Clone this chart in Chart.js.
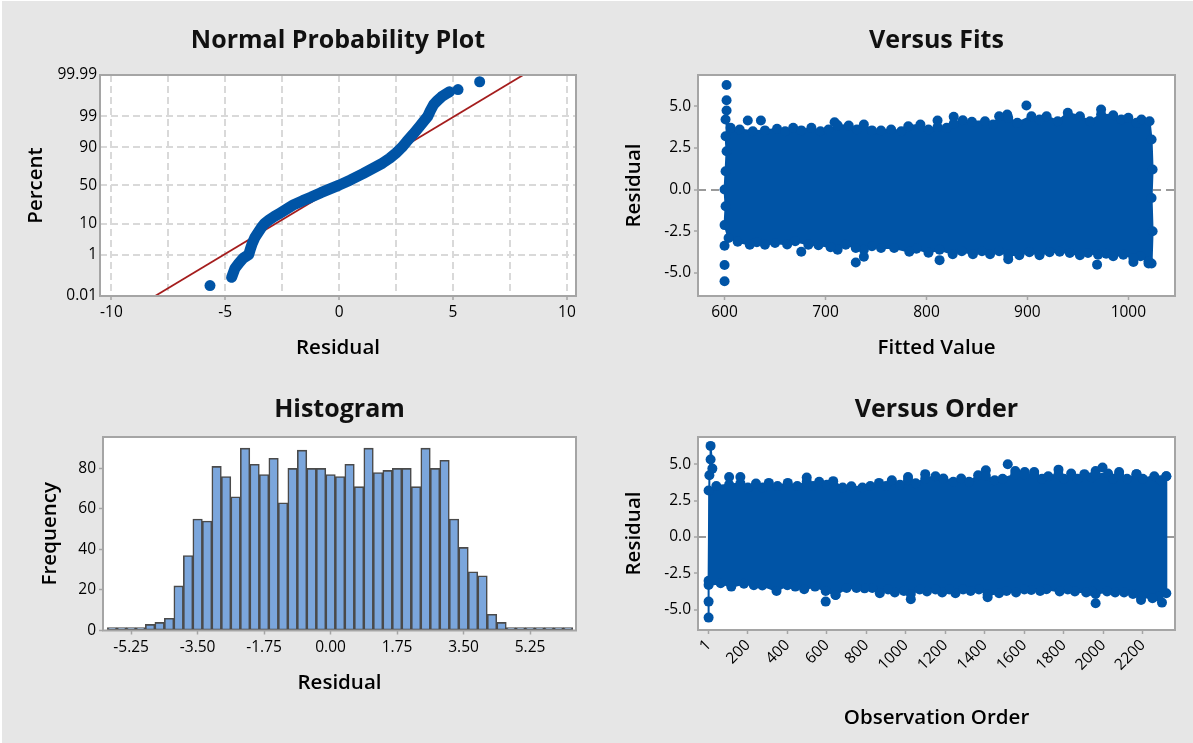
<!DOCTYPE html>
<html><head><meta charset="utf-8">
<script src="https://cdn.jsdelivr.net/npm/chart.js@4.4.1/dist/chart.umd.min.js"></script>
<style>
html,body{margin:0;padding:0;background:#e6e6e6;}
#wrap{position:relative;width:1193px;height:743px;background:#e6e6e6;overflow:hidden;}
canvas{position:absolute;}
#edge{position:absolute;left:0;top:0;width:1193px;height:743px;box-sizing:border-box;border-left:2px solid #fff;border-top:1px solid #fff;pointer-events:none;}
</style></head><body>
<div id="wrap">
<canvas id="c1" width="596" height="371" style="left:0;top:0"></canvas>
<canvas id="c2" width="597" height="371" style="left:596px;top:0"></canvas>
<canvas id="c3" width="596" height="372" style="left:0;top:371px"></canvas>
<canvas id="c4" width="597" height="372" style="left:596px;top:371px"></canvas>
<div id="edge"></div>
</div>
<script>
// ---------- DATA ----------
// Normal probability plot (residual, percent)
const nppResidual = [-4.72,-4.58,-4.40,-4.21,-3.97,-3.90,-3.82,-3.70,-3.55,-3.42,-3.28,-3.10,-2.85,-2.60,-2.30,-2.02,-1.60,-1.25,-0.80,-0.40,0.00,0.50,1.05,1.50,1.91,2.22,2.50,2.75,2.96,3.25,3.54,3.75,3.89,4.00,4.15,4.30,4.50,4.71,4.85];
const nppPercent  = [0.10,0.26,0.45,0.72,1.0,1.6,2.5,4.0,5.8,7.8,10,12,14.8,17.6,21.5,25.5,30.5,34.5,40.5,45.5,50.5,57.5,65.5,72,77.5,82,86.3,90,93,95.8,97.7,98.6,99.0,99.4,99.68,99.78,99.86,99.90,99.92];
const nppOutResidual = [-5.67, 5.22, 6.17];
const nppOutPercent  = [0.038, 99.938, 99.976];
const nppFitResidual = [-8.08, 8.08];
const nppFitPercent  = [0.01, 99.99];
const nppPercentTicks = [0.01, 1, 10, 50, 90, 99, 99.99];
const nppResidualGrid = [-10,-7.5,-5,-2.5,0,2.5,5,7.5,10];
const nppResidualLabels = [-10,-5,0,5,10];

// Versus fits: dense region outline (upper+right side, left side+lower), isolated points
const fitsTopX = [601,606,615,628,640,652,660,668,676,686,695,703,712,723,731,738,746,755,765,775,782,794,802,811,820,827,836,845,858,866,872,881,890,904,912,919,930,940,952,962,973,985,993,1000,1008,1013,1021,1023,1024,1023,1024];
const fitsTopY = [4.2,3.7,3.6,3.5,3.55,3.64,3.5,3.7,3.55,3.7,3.5,3.6,3.85,3.84,3.6,3.9,3.55,3.54,3.6,3.5,3.8,3.9,3.6,3.75,3.7,3.95,4.16,4.06,4.1,3.9,4.4,4.3,4.0,4.4,4.2,4.4,4.1,4.6,4.4,4.1,4.5,4.46,4.2,4.3,4.0,4.2,4.1,3.0,1.2,-0.5,-2.5];
const fitsBotX = [601,602,601,600,601,600,604,613,625,632,640,650,662,670,683,693,705,712,720,730,738,746,755,768,783,790,802,813,826,835,846,855,863,872,881,892,902,912,922,932,942,952,960,970,978,985,995,1005,1012,1020,1023];
const fitsBotY = [3.2,2.3,1.1,0.0,-1.0,-2.13,-2.9,-3.13,-3.3,-3.15,-3.3,-3.2,-3.29,-3.1,-3.3,-3.33,-3.45,-3.6,-3.3,-3.5,-3.6,-3.4,-3.5,-3.5,-3.73,-3.55,-3.79,-3.6,-3.87,-3.7,-3.87,-3.7,-3.87,-3.7,-3.9,-3.93,-3.75,-3.93,-3.75,-3.73,-3.8,-3.93,-3.8,-3.9,-3.85,-3.99,-3.9,-4.1,-4.0,-4.3,-4.43];
const fitsOutX = [602,602,602,623,636,709,811,827,880,899,973,600,600,600,676,730,738,813,881,969,1005,1020];
const fitsOutY = [6.27,5.36,4.74,4.14,4.14,4.04,4.14,4.36,4.5,5.04,4.8,-3.37,-4.52,-5.5,-3.73,-4.37,-4.03,-4.23,-4.17,-4.5,-4.34,-4.43];
const fitsResidTicks = [-5,-2.5,0,2.5,5];
const fitsValueTicks = [600,700,800,900,1000];

// Histogram
const histBins = [-5.75,-5.5,-5.25,-5.0,-4.75,-4.5,-4.25,-4.0,-3.75,-3.5,-3.25,-3.0,-2.75,-2.5,-2.25,-2.0,-1.75,-1.5,-1.25,-1.0,-0.75,-0.5,-0.25,0.0,0.25,0.5,0.75,1.0,1.25,1.5,1.75,2.0,2.25,2.5,2.75,3.0,3.25,3.5,3.75,4.0,4.25,4.5,4.75,5.0,5.25,5.5,5.75,6.0,6.25];
const histCounts = [0,0,0,0,3,4,6,22,37,55,54,81,76,66,90,82,77,85,63,80,89,80,80,77,76,82,71,90,78,79,80,80,71,90,80,84,55,41,29,27,8,4,0,0,0,0,0,0,0];
const histResidTicks = [-5.25,-3.5,-1.75,0,1.75,3.5,5.25];
const histFreqTicks = [0,20,40,60,80];

// Versus order
const orderTopX = [1,40,105,162,200,241,275,306,350,402,450,498,530,561,600,632,680,724,780,820,864,900,929,970,1011,1050,1098,1150,1190,1240,1280,1320,1366,1405,1450,1490,1554,1602,1650,1690,1721,1773,1800,1837,1870,1904,1940,1961,2024,2050,2080,2120,2168,2200,2258,2290,2319];
const orderTopY = [3.2,3.5,3.6,3.7,3.4,3.68,3.4,3.72,3.5,3.72,3.5,3.8,3.5,3.79,3.6,3.84,3.4,3.49,3.4,3.5,3.72,3.5,3.9,3.6,3.9,3.7,4.0,4.18,4.02,3.8,4.02,3.8,4.25,4.2,3.9,4.0,4.3,4.3,4.3,4.0,4.18,4.3,4.0,4.36,4.0,4.32,4.1,4.3,4.36,4.0,4.3,4.0,4.32,4.0,4.18,3.9,4.18];
const orderBotX = [1,62,116,180,230,273,345,400,440,485,540,594,644,700,750,791,830,868,910,944,990,1025,1070,1107,1150,1184,1220,1251,1290,1328,1370,1414,1472,1510,1558,1600,1635,1680,1712,1779,1820,1856,1913,1940,1961,2019,2060,2105,2150,2191,2249,2280,2319];
const orderBotY = [-3.29,-3.17,-3.40,-3.2,-3.3,-3.33,-3.70,-3.3,-3.4,-3.58,-3.4,-3.7,-3.97,-3.5,-3.5,-3.52,-3.5,-3.86,-3.6,-3.81,-3.7,-3.9,-3.6,-3.74,-3.6,-3.81,-3.6,-3.86,-3.6,-3.70,-3.6,-3.95,-3.86,-3.7,-3.81,-3.6,-3.63,-3.7,-3.58,-3.74,-3.6,-3.74,-3.81,-3.7,-3.9,-3.74,-3.8,-3.81,-3.9,-4.1,-4.20,-4.1,-3.86];
const orderStartX = [1,1,1,5,11,11,20];
const orderStartY = [-5.53,-4.43,-3.0,4.25,5.32,6.26,4.70];
const orderOutX = [105,162,498,1011,1098,1405,1516,1554,1602,1650,1773,1961,1996,2080,2168,2319,594,644,1025,1414,1961,2191,2297];
const orderOutY = [4.13,4.13,4.09,4.13,4.32,4.59,5.0,4.54,4.47,4.47,4.63,4.54,4.77,4.47,4.32,4.18,-4.43,-3.97,-4.27,-4.13,-4.54,-4.32,-4.50];
const orderTicks = [1,200,400,600,800,1000,1200,1400,1600,1800,2000,2200];

// ---------- HELPERS ----------
const BLUE = '#0054a6';
const FONT = "'Open Sans', 'Noto Sans', sans-serif";
const FRAME = '#a5a5a5';
Chart.defaults.font.family = FONT;
Chart.defaults.color = '#000';

function probit(p) {
  const a=[-3.969683028665376e+01,2.209460984245205e+02,-2.759285104469687e+02,1.383577518672690e+02,-3.066479806614716e+01,2.506628277459239e+00];
  const b=[-5.447609879822406e+01,1.615858368580409e+02,-1.556989798598866e+02,6.680131188771972e+01,-1.328068155288572e+01];
  const c=[-7.784894002430293e-03,-3.223964580411365e-01,-2.400758277161838e+00,-2.549671348440952e+00,4.374664141464968e+00,2.938163982698783e+00];
  const d=[7.784695709041462e-03,3.224671290700398e-01,2.445134137142996e+00,3.754408361280976e+00];
  const pl=0.02425, ph=1-pl; let q,r;
  if (p < pl) { q=Math.sqrt(-2*Math.log(p)); return (((((c[0]*q+c[1])*q+c[2])*q+c[3])*q+c[4])*q+c[5])/((((d[0]*q+d[1])*q+d[2])*q+d[3])*q+1); }
  if (p <= ph) { q=p-0.5; r=q*q; return (((((a[0]*r+a[1])*r+a[2])*r+a[3])*r+a[4])*r+a[5])*q/(((((b[0]*r+b[1])*r+b[2])*r+b[3])*r+b[4])*r+1); }
  q=Math.sqrt(-2*Math.log(1-p)); return -(((((c[0]*q+c[1])*q+c[2])*q+c[3])*q+c[4])*q+c[5])/((((d[0]*q+d[1])*q+d[2])*q+d[3])*q+1);
}

class ProbitScale extends Chart.Scale {
  determineDataLimits() { this.min = this.options.min; this.max = this.options.max; }
  buildTicks() { return nppPercentTicks.map(v => ({value: v})); }
  getLabelForValue(v) { return String(v); }
  configure() { super.configure(); this._zmin = probit(this.min/100); this._zmax = probit(this.max/100); }
  getPixelForValue(v) { return this.getPixelForDecimal((probit(v/100) - this._zmin)/(this._zmax - this._zmin)); }
  getPixelForTick(i) { return this.getPixelForValue(this.ticks[i].value); }
  getValueForPixel(px) { return 50; }
}
ProbitScale.id = 'probit';
ProbitScale.defaults = {};
Chart.register(ProbitScale);

const pts = (xs, ys) => xs.map((x, i) => ({x: x, y: ys[i]}));
const polygon = (tx, ty, bx, by) => pts(tx, ty).concat(pts(bx, by).reverse());

const panelPlugin = {
  id: 'panel',
  beforeDraw(chart, args, opts) {
    const {ctx, chartArea: a} = chart;
    ctx.save(); ctx.fillStyle = '#fff'; ctx.fillRect(a.left, a.top, a.width, a.height); ctx.restore();
  },
  afterDraw(chart, args, opts) {
    const {ctx, chartArea: a} = chart;
    ctx.save();
    ctx.strokeStyle = FRAME; ctx.lineWidth = 2;
    ctx.strokeRect(a.left, a.top, a.width, a.height);
    ctx.fillStyle = '#111'; ctx.font = 'bold 25px ' + FONT;
    ctx.textAlign = 'center'; ctx.textBaseline = 'middle';
    ctx.fillText(opts.text, (a.left + a.right) / 2, opts.y);
    ctx.restore();
  }
};

const TICKFONT = {size: 15.5};
const TITLEFONT = {size: 20.5, weight: '600'};
const base = (pad, title, titleY) => ({
  responsive: false, animation: false, events: [], devicePixelRatio: 1,
  layout: {padding: pad},
  plugins: {legend: {display: false}, tooltip: {enabled: false}, panel: {text: title, y: titleY}}
});
const setTicks = arr => (s => { s.ticks = arr.map(v => ({value: v})); });

// ---------- PANEL 1: Normal probability plot ----------
new Chart(document.getElementById('c1'), {
  type: 'line',
  data: {datasets: [
    {data: pts(nppOutResidual, nppOutPercent), showLine: false, pointRadius: 5.5, pointBackgroundColor: BLUE, pointBorderWidth: 0},
    {data: pts(nppResidual, nppPercent), borderColor: BLUE, borderWidth: 11, borderCapStyle: 'round', borderJoinStyle: 'round', pointRadius: 0, tension: 0},
    {data: pts(nppFitResidual, nppFitPercent), borderColor: '#a51d1d', borderWidth: 1.8, pointRadius: 0, tension: 0}
  ]},
  options: Object.assign(base({left: 0, right: 20, top: 75, bottom: 0}, 'Normal Probability Plot', 41), {
    scales: {
      x: {type: 'linear', min: -10.5, max: 10.4, bounds: 'data',
          afterFit: s => { s.height = 75; }, afterBuildTicks: setTicks(nppResidualGrid),
          ticks: {autoSkip: false, maxRotation: 0, font: TICKFONT, padding: 3, callback: v => nppResidualLabels.includes(v) ? String(v) : ''},
          grid: {color: '#d9d9d9', lineWidth: 2, tickLength: 4, tickWidth: 1.5,
                 tickColor: c => (c.tick && nppResidualLabels.includes(c.tick.value)) ? FRAME : 'rgba(0,0,0,0)'},
          border: {display: false, dash: [7, 4]},
          title: {display: true, text: 'Residual', font: TITLEFONT, padding: {top: 0, bottom: 11}}},
      y: {type: 'probit', min: 0.01, max: 99.99,
          afterFit: s => { s.width = 100; },
          ticks: {autoSkip: false, font: TICKFONT, padding: 3},
          grid: {color: '#d9d9d9', lineWidth: 2, drawTicks: false},
          border: {display: false, dash: [7, 4]},
          title: {display: true, text: 'Percent', font: TITLEFONT, padding: {top: 24, bottom: 0}}}
    }
  }),
  plugins: [panelPlugin]
});

// ---------- PANEL 2: Versus fits ----------
const residAxis = (padTop, min, max) => ({
  type: 'linear', min: min, max: max, bounds: 'data',
  afterFit: s => { s.width = 102; }, afterBuildTicks: setTicks(fitsResidTicks),
  ticks: {autoSkip: false, font: TICKFONT, padding: 3, callback: v => Number(v).toFixed(1)},
  grid: {color: c => (c.tick && c.tick.value === 0) ? '#9a9a9a' : 'rgba(0,0,0,0)', lineWidth: 2,
         tickLength: 4, tickWidth: 1.5, tickColor: FRAME},
  border: {display: false, dash: [8, 5]},
  title: {display: true, text: 'Residual', font: TITLEFONT, padding: {top: padTop, bottom: 0}}
});

new Chart(document.getElementById('c2'), {
  type: 'line',
  data: {datasets: [
    {data: polygon(fitsTopX, fitsTopY, fitsBotX, fitsBotY), fill: 'shape', backgroundColor: BLUE, borderColor: BLUE, borderWidth: 2,
     pointRadius: 5, pointBackgroundColor: BLUE, pointBorderWidth: 0, tension: 0},
    {data: pts(fitsOutX, fitsOutY), showLine: false, pointRadius: 5, pointBackgroundColor: BLUE, pointBorderWidth: 0}
  ]},
  options: Object.assign(base({left: 0, right: 18, top: 75, bottom: 0}, 'Versus Fits', 41), {
    scales: {
      x: {type: 'linear', min: 573.7, max: 1046.2, bounds: 'data',
          afterFit: s => { s.height = 75; }, afterBuildTicks: setTicks(fitsValueTicks),
          ticks: {autoSkip: false, maxRotation: 0, font: TICKFONT, padding: 3, callback: v => String(v)},
          grid: {drawOnChartArea: false, tickLength: 4, tickWidth: 1.5, tickColor: FRAME, color: FRAME},
          border: {display: false},
          title: {display: true, text: 'Fitted Value', font: TITLEFONT, padding: {top: 0, bottom: 11}}},
      y: residAxis(26, -6.38, 6.87)
    }
  }),
  plugins: [panelPlugin]
});

// ---------- PANEL 3: Histogram ----------
new Chart(document.getElementById('c3'), {
  type: 'bar',
  data: {datasets: [
    {data: pts(histBins, histCounts), backgroundColor: '#7ba6dc', borderColor: '#4a4a4a', borderWidth: 1.6,
     barPercentage: 1, categoryPercentage: 1, minBarLength: 3, borderSkipped: false}
  ]},
  options: Object.assign(base({left: 0, right: 20, top: 66, bottom: 0}, 'Histogram', 39), {
    scales: {
      x: {type: 'linear', min: -5.99, max: 6.46, bounds: 'data', offset: false,
          afterFit: s => { s.height = 112.5; }, afterBuildTicks: setTicks(histResidTicks),
          ticks: {autoSkip: false, maxRotation: 0, font: TICKFONT, padding: 4, callback: v => Number(v).toFixed(2)},
          grid: {offset: false, drawOnChartArea: false, tickLength: 4, tickWidth: 1.5, tickColor: FRAME, color: FRAME},
          border: {display: false},
          title: {display: true, text: 'Residual', font: TITLEFONT, padding: {top: 0, bottom: 47.5}}},
      y: {type: 'linear', min: 0, max: 95.5, bounds: 'data',
          afterFit: s => { s.width = 103; }, afterBuildTicks: setTicks(histFreqTicks),
          ticks: {autoSkip: false, font: TICKFONT, padding: 3},
          grid: {drawOnChartArea: false, tickLength: 4, tickWidth: 1.5, tickColor: FRAME, color: FRAME},
          border: {display: false},
          title: {display: true, text: 'Frequency', font: TITLEFONT, padding: {top: 38, bottom: 0}}}
    }
  }),
  plugins: [panelPlugin]
});

// ---------- PANEL 4: Versus order ----------
new Chart(document.getElementById('c4'), {
  type: 'line',
  data: {datasets: [
    {data: polygon(orderTopX, orderTopY, orderBotX, orderBotY), fill: 'shape', backgroundColor: BLUE, borderColor: BLUE, borderWidth: 2,
     pointRadius: 5, pointBackgroundColor: BLUE, pointBorderWidth: 0, tension: 0},
    {data: pts(orderStartX, orderStartY), borderColor: BLUE, borderWidth: 2, pointRadius: 5, pointBackgroundColor: BLUE, pointBorderWidth: 0, tension: 0},
    {data: pts(orderOutX, orderOutY), showLine: false, pointRadius: 5, pointBackgroundColor: BLUE, pointBorderWidth: 0}
  ]},
  options: Object.assign(base({left: 0, right: 18, top: 66, bottom: 0}, 'Versus Order', 39), {
    scales: {
      x: {type: 'linear', min: -52.7, max: 2363, bounds: 'data',
          afterFit: s => { s.height = 113; }, afterBuildTicks: setTicks(orderTicks),
          ticks: {autoSkip: false, minRotation: 45, maxRotation: 45, font: TICKFONT, padding: 2, callback: v => String(v)},
          grid: {drawOnChartArea: false, tickLength: 4, tickWidth: 1.5, tickColor: FRAME, color: FRAME},
          border: {display: false},
          title: {display: true, text: 'Observation Order', font: TITLEFONT, padding: {top: 0, bottom: 13}}},
      y: residAxis(26, -6.38, 6.87)
    }
  }),
  plugins: [panelPlugin]
});
</script>
</body></html>
